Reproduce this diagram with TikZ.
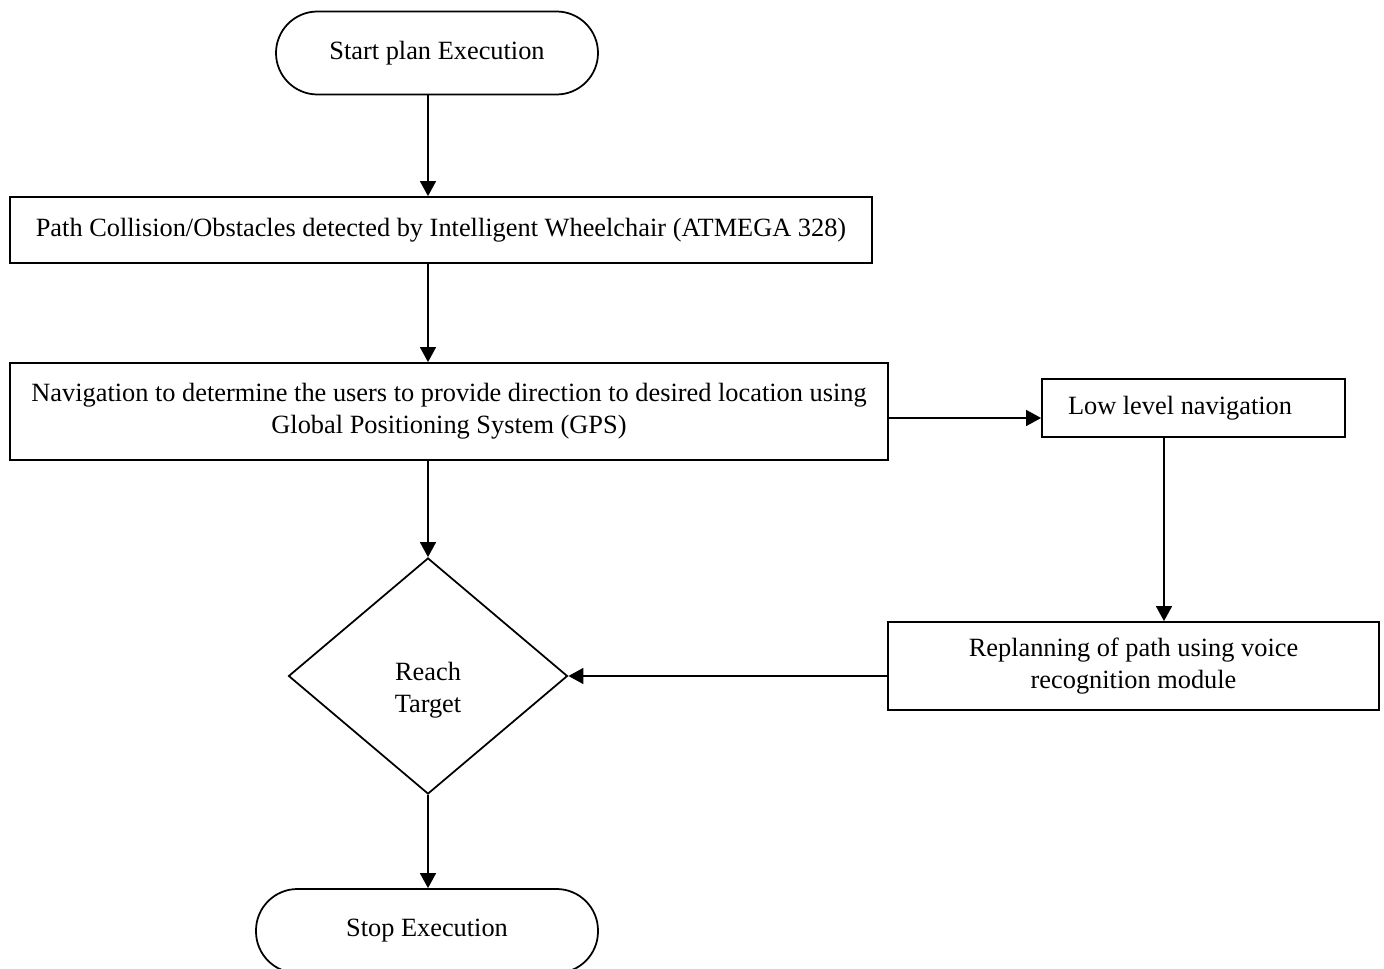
\documentclass[tikz,border=0pt]{standalone}
\usepackage{fontspec}
\setmainfont{Liberation Serif}
\usepackage{tikz}
\usetikzlibrary{calc,arrows.meta,shapes.geometric}

\begin{document}
\begin{tikzpicture}
                      \tikzstyle{box}=[rectangle,draw=black,line width=1pt,inner sep=2pt,align=center,font=\fontsize{15}{18}\selectfont]
                      \tikzstyle{term}=[box,rounded corners=0.83cm]
                      \tikzstyle{flow}=[line width=1pt,-{Triangle[length=8.5pt,width=9pt]}]
                      \useasboundingbox (0,0) rectangle (27.68,-19.38);
                      \node [term,minimum width=6.44cm,minimum height=1.66cm] (s) at (8.74,-1.06) {Start plan Execution};
                      \node [box,minimum width=17.24cm,minimum height=1.32cm] (c) at (8.82,-4.6) {Path Collision/Obstacles detected by Intelligent Wheelchair (ATMEGA 328)};
                      \node [box,minimum width=17.56cm,minimum height=1.94cm] (n) at (8.98,-8.23) {Navigation to determine the users to provide direction to desired location using\\Global Positioning System (GPS)};
                      \node [box,text width=5.02cm,inner xsep=0.52cm,align=flush left,minimum height=1.16cm] (l) at (23.87,-8.16) {Low level navigation};
                      \node [box,minimum width=9.82cm,minimum height=1.76cm] (r) at (22.67,-13.32) {Replanning of path using voice\\recognition module};
                      \node [box,diamond,minimum width=5.58cm,minimum height=4.72cm,inner sep=0pt] (t) at (8.56,-13.52) {\mbox{}\\[0.3cm]Reach\\Target};
                      \node [term,minimum width=6.84cm,minimum height=1.68cm] (e) at (8.54,-18.62) {Stop Execution};
                      % main line
                      \draw [flow] (s.south -| t) -- (c.north -| t);
                      \draw [flow] (c.south -| t) -- (n.north -| t);
                      \draw [flow] (n.south -| t) -- (t.north);
                      \draw [flow] (t.south) -- (e.north -| t);
                      % side loop
                      \draw [flow] ([yshift=-0.2cm]l.west -| n.east) -- ([yshift=-0.2cm]l.west);
                      \draw [flow] ([xshift=-0.59cm]l.south) -- ([xshift=-0.59cm]l.south |- r.north);
                      \draw [flow] (r.west |- t.east) -- (t.east);
                  \end{tikzpicture}
\end{document}
